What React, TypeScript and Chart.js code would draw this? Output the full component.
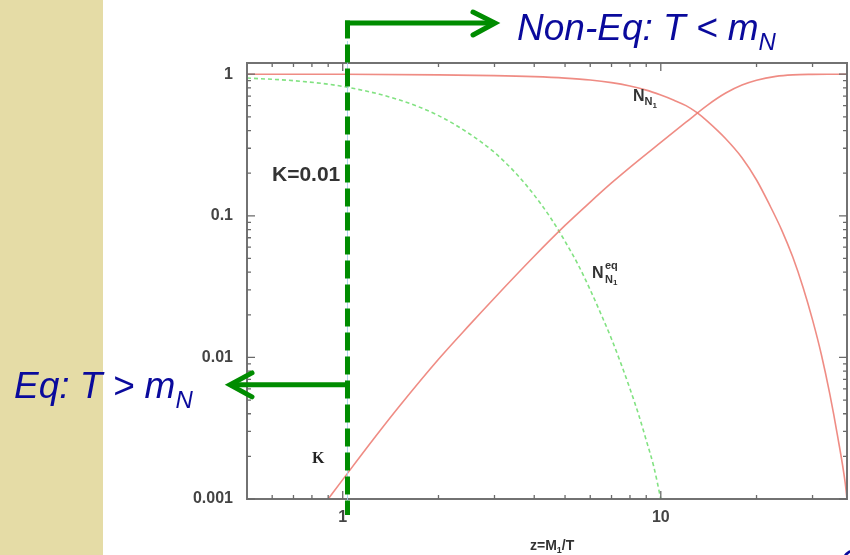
import React, { useEffect, useRef } from 'react';
import { Chart, registerables } from 'chart.js';

Chart.register(...registerables);

// ---- data ----
// descending curve N_N1 (thermal initial abundance)
const descZ = [0.5, 1, 2, 3, 4, 5, 6, 7, 8, 9, 10, 11, 12, 13, 14, 16, 18, 20, 22, 24, 26, 28, 30, 32, 34, 36, 38, 38.5];
const descN = [1.0, 1.0, 0.99, 0.978, 0.961, 0.939, 0.911, 0.872, 0.825, 0.772, 0.712, 0.655, 0.6, 0.535, 0.466, 0.35, 0.257, 0.179, 0.119, 0.0793, 0.0511, 0.0313, 0.0184, 0.0104, 0.0055, 0.00275, 0.0013, 0.001];
// rising curve
const riseZ = [0.9, 1, 1.25, 1.5, 2, 2.5, 3, 4, 5, 6, 7, 8, 10, 12, 14, 16, 18, 20, 23, 26, 30, 34, 38.5];
const riseN = [0.001, 0.00137, 0.00265, 0.00446, 0.0097, 0.0169, 0.0263, 0.0518, 0.0855, 0.125, 0.1706, 0.22, 0.33, 0.458, 0.603, 0.736, 0.838, 0.907, 0.966, 0.99, 0.998, 1.0, 1.0];
// equilibrium abundance (dashed green)
const eqZ = [0.5, 0.7, 1, 1.5, 2, 2.5, 3, 3.5, 4, 4.5, 5, 5.5, 6, 6.5, 7, 7.5, 8, 8.5, 9, 9.5, 10];
const eqN = [0.94, 0.9, 0.82, 0.66, 0.51, 0.38, 0.28, 0.2, 0.14, 0.097, 0.066, 0.045, 0.03, 0.02, 0.0135, 0.009, 0.006, 0.004, 0.0026, 0.0017, 0.001];

const xTickLabels = [1, 10];
const yTickLabels = [1, 0.1, 0.01, 0.001];
const X_MIN = 0.5;
const X_MAX = 38.5;
const Y_MIN = 0.001;
const Y_MAX = 1.2;
const DIVIDE_Z = 1.035;
const EQ_ARROW_Y = 0.0064;

const RED = 'rgba(236,120,110,0.85)';
const LGREEN = 'rgb(130,226,130)';
const DGREEN = '#008c00';
const BLUE = '#0a0a9c';
const SANS = '"Liberation Sans", Arial, sans-serif';
const SERIF = '"Liberation Serif", "Times New Roman", serif';

type Part = { t: string; size: number; dy?: number; style?: string; dx?: number };

function drawRich(ctx: CanvasRenderingContext2D, parts: Part[], x: number, y: number, color: string, family: string) {
  let cx = x;
  ctx.fillStyle = color;
  ctx.textBaseline = 'alphabetic';
  ctx.textAlign = 'left';
  for (const p of parts) {
    ctx.font = `${p.style || ''} ${p.size}px ${family}`;
    cx += p.dx || 0;
    ctx.fillText(p.t, cx, y + (p.dy || 0));
    cx += ctx.measureText(p.t).width;
  }
}

const overlay = {
  id: 'overlay',
  beforeDraw(chart: any) {
    const ctx = chart.ctx as CanvasRenderingContext2D;
    ctx.save();
    ctx.fillStyle = '#ffffff';
    ctx.fillRect(0, 0, chart.width, chart.height);
    ctx.fillStyle = 'rgb(229,220,166)';
    ctx.fillRect(0, 0, 103, chart.height);
    ctx.restore();
  },
  afterDraw(chart: any) {
    const ctx = chart.ctx as CanvasRenderingContext2D;
    const xs = chart.scales.x;
    const ys = chart.scales.y;
    const { left, right, top, bottom } = chart.chartArea;
    ctx.save();

    // frame
    ctx.strokeStyle = '#727272';
    ctx.lineWidth = 2;
    ctx.strokeRect(left, top, right - left, bottom - top);

    // ticks (inward)
    ctx.lineWidth = 1.3;
    ctx.strokeStyle = '#6a6a6a';
    const xMinor: number[] = [];
    for (const d of [0.1, 1, 10]) for (let k = 2; k <= 9; k++) { const v = k * d; if (v > X_MIN && v < X_MAX) xMinor.push(v); }
    const yMinor: number[] = [];
    for (const d of [0.001, 0.01, 0.1]) for (let k = 2; k <= 9; k++) yMinor.push(k * d);
    const tickX = (v: number, len: number) => {
      const px = xs.getPixelForValue(v);
      ctx.beginPath();
      ctx.moveTo(px, bottom); ctx.lineTo(px, bottom - len);
      ctx.moveTo(px, top); ctx.lineTo(px, top + len);
      ctx.stroke();
    };
    const tickY = (v: number, len: number) => {
      const py = ys.getPixelForValue(v);
      ctx.beginPath();
      ctx.moveTo(left, py); ctx.lineTo(left + len, py);
      ctx.moveTo(right, py); ctx.lineTo(right - len, py);
      ctx.stroke();
    };
    xMinor.forEach((v) => tickX(v, 4));
    xTickLabels.forEach((v) => tickX(v, 8));
    yMinor.forEach((v) => tickY(v, 4));
    yTickLabels.forEach((v) => tickY(v, 8));

    // labels inside plot
    drawRich(ctx, [{ t: 'K=0.01', size: 21, style: 'bold' }], 272, 181, '#333', SANS);
    drawRich(ctx, [{ t: 'N', size: 16, style: 'bold' }, { t: 'N', size: 11, dy: 4, style: 'bold' }, { t: '1', size: 8, dy: 7, style: 'bold' }], 633, 101, '#333', SANS);
    drawRich(ctx, [{ t: 'N', size: 16, style: 'bold' }], 592, 278, '#333', SANS);
    drawRich(ctx, [{ t: 'eq', size: 11, style: 'bold' }], 605, 269, '#333', SANS);
    drawRich(ctx, [{ t: 'N', size: 11, style: 'bold' }, { t: '1', size: 8, dy: 2, style: 'bold' }], 605, 283, '#333', SANS);
    drawRich(ctx, [{ t: 'K', size: 16, style: 'bold' }], 312, 463, '#222', SERIF);
    // axis title
    drawRich(ctx, [{ t: 'z=M', size: 14, style: 'bold' }, { t: '1', size: 9, dy: 3, style: 'bold' }, { t: '/T', size: 14, style: 'bold' }], 530, 550, '#333', SANS);

    // green divider
    const vx = xs.getPixelForValue(DIVIDE_Z);
    const topY = top - 40;
    const eqY = ys.getPixelForValue(EQ_ARROW_Y);
    ctx.strokeStyle = 'rgba(165,212,235,0.9)';
    ctx.lineWidth = 1;
    ctx.beginPath(); ctx.moveTo(vx, topY + 18); ctx.lineTo(vx, bottom + 16); ctx.stroke();

    ctx.strokeStyle = DGREEN;
    ctx.lineWidth = 5;
    ctx.setLineDash([18, 6]);
    ctx.beginPath(); ctx.moveTo(vx, topY - 2.5); ctx.lineTo(vx, bottom + 16); ctx.stroke();
    ctx.setLineDash([]);
    // top horizontal arrow
    ctx.lineCap = 'butt';
    ctx.lineJoin = 'miter';
    ctx.beginPath(); ctx.moveTo(vx - 2.5, topY); ctx.lineTo(495, topY); ctx.stroke();
    ctx.lineCap = 'round';
    ctx.beginPath();
    ctx.moveTo(473, topY - 11); ctx.lineTo(495, topY); ctx.lineTo(473, topY + 12);
    ctx.stroke();
    // left arrow
    ctx.lineCap = 'butt';
    ctx.beginPath(); ctx.moveTo(vx + 2.5, eqY); ctx.lineTo(230, eqY); ctx.stroke();
    ctx.lineCap = 'round';
    ctx.beginPath();
    ctx.moveTo(252, eqY - 12); ctx.lineTo(230, eqY); ctx.lineTo(252, eqY + 12);
    ctx.stroke();

    // slide texts
    drawRich(ctx, [{ t: 'Non-Eq: T < m', size: 37, style: 'italic' }, { t: 'N', size: 24, dy: 10, style: 'italic' }], 517, 40, BLUE, SANS);
    drawRich(ctx, [{ t: 'Eq: T > m', size: 37, style: 'italic' }, { t: 'N', size: 24, dy: 10, style: 'italic' }], 14, 398, BLUE, SANS);
    drawRich(ctx, [{ t: 'C', size: 34, style: 'italic' }], 840, 572, BLUE, SANS);

    ctx.restore();
  },
};

export default function App() {
  const ref = useRef<HTMLCanvasElement>(null);
  useEffect(() => {
    const canvas = ref.current!;
    const tickFont = { family: SANS, size: 16, weight: 'bold' };
    const chart = new Chart(canvas, {
      type: 'line',
      data: {
        datasets: [
          {
            data: descZ.map((z, i) => ({ x: z, y: descN[i] })),
            borderColor: RED, borderWidth: 1.6, pointRadius: 0, fill: false,
            cubicInterpolationMode: 'monotone',
          },
          {
            data: riseZ.map((z, i) => ({ x: z, y: riseN[i] })),
            borderColor: RED, borderWidth: 1.6, pointRadius: 0, fill: false,
            cubicInterpolationMode: 'monotone',
          },
          {
            data: eqZ.map((z, i) => ({ x: z, y: eqN[i] })),
            borderColor: LGREEN, borderWidth: 1.6, borderDash: [4, 3], pointRadius: 0, fill: false,
            cubicInterpolationMode: 'monotone',
          },
        ],
      },
      options: {
        responsive: false,
        animation: false,
        devicePixelRatio: 1,
        layout: { padding: { left: 187, top: 63, right: 3, bottom: 26 } },
        plugins: { legend: { display: false }, tooltip: { enabled: false } },
        scales: {
          x: {
            type: 'logarithmic', min: X_MIN, max: X_MAX, position: 'bottom',
            grid: { display: false, drawTicks: false }, border: { display: false },
            ticks: { autoSkip: false, maxRotation: 0, padding: 9, font: tickFont, color: '#444', callback: (v: any) => String(v) },
            afterBuildTicks: (s: any) => { s.ticks = xTickLabels.map((v) => ({ value: v })); },
            afterFit: (s: any) => { s.height = 30; },
          },
          y: {
            type: 'logarithmic', min: Y_MIN, max: Y_MAX, position: 'left',
            grid: { display: false, drawTicks: false }, border: { display: false },
            ticks: { autoSkip: false, padding: 14, font: tickFont, color: '#444', callback: (v: any) => String(v) },
            afterBuildTicks: (s: any) => { s.ticks = yTickLabels.map((v) => ({ value: v })); },
            afterFit: (s: any) => { s.width = 60; },
          },
        },
      } as any,
      plugins: [overlay],
    });
    return () => chart.destroy();
  }, []);
  return (
    <div style={{ position: 'absolute', left: 0, top: 0, width: 850, height: 555 }}>
      <canvas ref={ref} width={850} height={555} style={{ display: 'block' }} />
    </div>
  );
}
